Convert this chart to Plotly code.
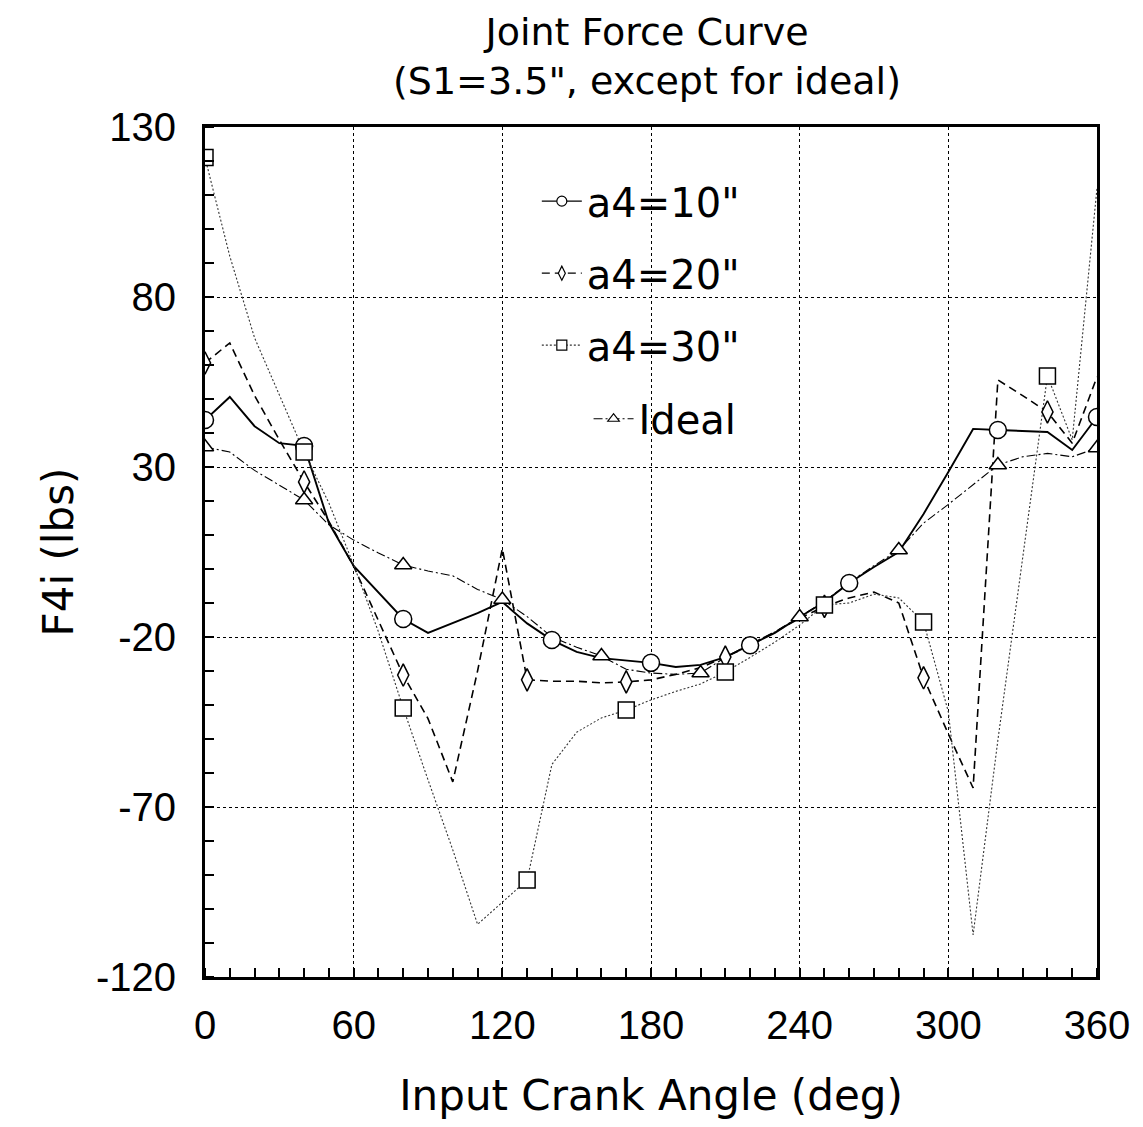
import plotly.graph_objects as go

# ---- data ----
angle = list(range(0, 361, 10))

a4_10 = [43.8, 50.6, 42.0, 37.0, 36.2, 13.5, 0.9, -6.8, -14.7, -18.8,
         -15.9, -13.0, -9.7, -16.0, -20.9, -24.4, -26.2, -27.0, -27.6, -28.8,
         -28.2, -25.9, -22.4, -18.8, -14.1, -9.7, -4.1, 0.6, 5.0, 16.2,
         28.5, 41.2, 40.9, 40.6, 40.3, 35.0, 44.7]
a4_10_mark = [0, 40, 80, 140, 180, 220, 260, 320, 360]

a4_20 = [60.6, 66.5, 51.0, 38.0, 25.6, 14.0, 0.8, -15.0, -31.2, -44.0,
         -62.6, -30.0, 6.0, -32.6, -33.0, -33.0, -33.5, -33.2, -32.6, -31.0,
         -29.0, -25.9, -22.5, -18.5, -14.5, -11.0, -8.5, -6.8, -10.0, -32.0,
         -48.5, -64.4, 55.6, 51.0, 46.2, 37.0, 56.5]
a4_20_mark = [0, 40, 80, 130, 170, 210, 250, 290, 340]

a4_30 = [121.0, 92.0, 68.0, 51.0, 34.4, 19.4, 1.2, -18.5, -40.9, -62.0,
         -82.6, -104.5, -98.0, -91.5, -57.5, -48.0, -43.8, -41.5, -38.5, -36.0,
         -33.8, -30.3, -26.0, -21.5, -16.5, -10.6, -10.0, -7.4, -8.5, -15.6,
         -42.0, -107.6, -50.3, 2.6, 56.8, 38.0, 112.0]
a4_30_mark = [0, 40, 80, 130, 170, 210, 250, 290, 340]

ideal = [35.9, 34.4, 29.0, 24.7, 20.3, 13.0, 8.5, 4.7, 1.2, -0.6,
         -2.0, -6.0, -9.0, -14.0, -20.0, -23.0, -25.6, -29.5, -30.6, -31.0,
         -30.6, -26.0, -22.0, -18.5, -14.1, -9.5, -4.0, 1.0, 5.6, 13.5,
         19.0, 24.7, 30.6, 33.0, 34.0, 33.0, 35.6]
ideal_mark = [0, 40, 80, 120, 160, 200, 240, 280, 320, 360]

names = ['a4=10"', 'a4=20"', 'a4=30"', 'Ideal']

x_ticks = [0, 60, 120, 180, 240, 300, 360]
y_ticks = [-120, -70, -20, 30, 80, 130]

title_text = 'Joint Force Curve<br>(S1=3.5", except for ideal)'
x_title = "Input Crank Angle (deg)"
y_title = "F4i (lbs)"

FONT = "Liberation Sans, Arial, Helvetica, sans-serif"
WIDE = "DejaVu Sans, Liberation Sans, Arial, sans-serif"

series = [
    (names[0], a4_10, a4_10_mark, "solid", 1.9, "black", "circle", 17),
    (names[1], a4_20, a4_20_mark, "8px,5px", 1.6, "black", "diamond-tall", 16),
    (names[2], a4_30, a4_30_mark, "2px,2px", 1.1, "#333333", "square", 16),
    (names[3], ideal, ideal_mark, "9px,3px,2px,3px", 1.1, "black", "triangle-up", 15),
]

fig = go.Figure()

# lines
for name, ys, marks, dash, w, col, sym, ms in series:
    fig.add_trace(go.Scatter(
        x=angle, y=ys, mode="lines", showlegend=False,
        line=dict(color=col, width=w, dash=dash), hoverinfo="skip"))

# markers (diamonds below squares, like the reference)
for name, ys, marks, dash, w, col, sym, ms in [series[0], series[3], series[1], series[2]]:
    mx = [a for a in angle if a in marks]
    my = [v for a, v in zip(angle, ys) if a in marks]
    fig.add_trace(go.Scatter(
        x=mx, y=my, mode="markers", showlegend=False,
        marker=dict(symbol=sym, size=ms, color="white",
                    line=dict(color="black", width=1.5))))

# legend entries (Ideal in its own, more centred legend box)
for i, (name, ys, marks, dash, w, col, sym, ms) in enumerate(series):
    fig.add_trace(go.Scatter(
        x=[None], y=[None], mode="lines+markers", name=name,
        legendgroup=f"g{i}", legend="legend2" if i == 3 else "legend",
        line=dict(color=col, width=1.2, dash=dash),
        marker=dict(symbol=sym, size=10, color="white",
                    line=dict(color="black", width=1.2))))

leg_common = dict(xanchor="left", yanchor="top", bgcolor="rgba(0,0,0,0)",
                  font=dict(size=40, family=WIDE), tracegroupgap=17,
                  traceorder="grouped", itemwidth=40)

fig.update_layout(
    width=1135, height=1119,
    paper_bgcolor="white", plot_bgcolor="white",
    margin=dict(l=197, r=46, t=119, b=150),
    font=dict(family=FONT, color="black"),
    legend=dict(x=0.372, y=0.951, **leg_common),
    legend2=dict(x=0.43, y=0.695, **leg_common),
    showlegend=True,
    annotations=[dict(
        text=title_text, xref="paper", yref="paper",
        x=0.495, y=1 + 119 / 850, xanchor="center", yanchor="top",
        showarrow=False, align="center",
        font=dict(size=38, family=WIDE, color="black"))],
)

fig.update_xaxes(
    range=[0, 360], tickvals=x_ticks, ticktext=[str(v) for v in x_ticks],
    showgrid=True, gridcolor="black", gridwidth=1, griddash="dot",
    showline=True, linecolor="black", linewidth=3, mirror=True,
    ticks="", ticklabelstandoff=11, zeroline=False, automargin=False,
    tickfont=dict(size=40, family=FONT),
    minor=dict(dtick=10, ticks="inside", ticklen=9, tickcolor="black",
               tickwidth=1.5, showgrid=False),
    title=dict(text=x_title, standoff=35,
               font=dict(size=42, family=WIDE)),
)
fig.update_yaxes(
    range=[-120, 130], tickvals=y_ticks, ticktext=[str(v) for v in y_ticks],
    showgrid=True, gridcolor="black", gridwidth=1, griddash="dot",
    showline=True, linecolor="black", linewidth=3, mirror=True,
    ticks="", ticklabelstandoff=18, zeroline=False, automargin=False,
    tickfont=dict(size=40, family=FONT),
    minor=dict(dtick=10, ticks="inside", ticklen=9, tickcolor="black",
               tickwidth=1.5, showgrid=False),
    title=dict(text=y_title, standoff=10,
               font=dict(size=42, family=WIDE)),
)

fig.write_html("out.html")
